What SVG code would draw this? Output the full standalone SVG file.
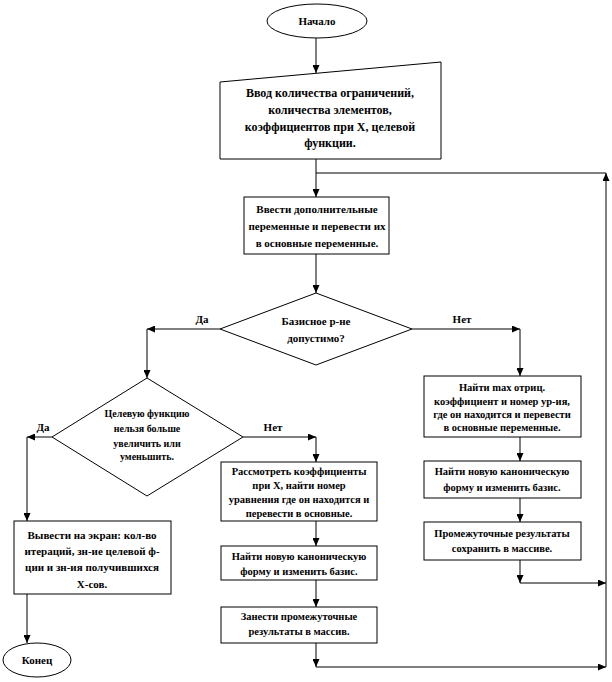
<svg xmlns="http://www.w3.org/2000/svg" width="612" height="682" viewBox="0 0 612 682">
<defs>
<marker id="arr" markerWidth="8" markerHeight="7" refX="8" refY="3.5" orient="auto" markerUnits="userSpaceOnUse">
<path d="M0,0 L8,3.5 L0,7 z" fill="#000"/>
</marker>
<style>
.s{fill:#fff;stroke:#000;stroke-width:1}
.c{fill:none;stroke:#000;stroke-width:1;marker-end:url(#arr)}
.n{fill:none;stroke:#000;stroke-width:1}
text{font-family:"Liberation Serif","Times New Roman",serif;font-weight:bold;fill:#000;text-anchor:middle}
.t12{font-size:12px}
.t11{font-size:11px}
.t10{font-size:10.5px}
.t9{font-size:10px}
</style>
</defs>
<rect width="612" height="682" fill="#fff"/>
<g id="connectors">
<path class="c" d="M316,38 V73"/>
<path class="c" d="M316,159 V197"/>
<path class="c" d="M316,254 V293"/>
<path class="c" d="M220,329 H147"/>
<path class="c" d="M147,329 V378"/>
<path class="c" d="M412,329 H520"/>
<path class="c" d="M520,329 V376"/>
<path class="c" d="M52,437 H27"/>
<path class="c" d="M27,437 V521"/>
<path class="c" d="M243,437 H316"/>
<path class="c" d="M316,437 V462"/>
<path class="c" d="M316,521 V546"/>
<path class="c" d="M316,580 V607"/>
<path class="c" d="M316,643 V667"/>
<path class="c" d="M316,667 H606"/>
<path class="c" d="M520,437 V461"/>
<path class="c" d="M520,498 V522"/>
<path class="c" d="M520,560 V583"/>
<path class="c" d="M520,583 H606"/>
<path class="c" d="M606,667 V173"/>
<path class="n" d="M606,173 H316"/>
<path class="c" d="M27,594 V643"/>
</g>
<g id="labels">
<text class="t11" x="202" y="323">Да</text>
<text class="t11" x="462" y="323">Нет</text>
<text class="t11" x="43" y="431">Да</text>
<text class="t11" x="273" y="431">Нет</text>
</g>
<g id="start">
<ellipse class="s" cx="317" cy="21" rx="50" ry="17"/>
<text class="t11" x="317" y="25">Начало</text>
</g>
<g id="input">
<path class="s" d="M220,82 L441,62 L441,159 L220,159 z"/>
<text class="t12" x="330" y="97">Ввод количества ограничений,</text>
<text class="t12" x="330" y="114">количества элементов,</text>
<text class="t12" x="330" y="131">коэффициентов при X, целевой</text>
<text class="t12" x="330" y="147">функции.</text>
</g>
<g id="addvars">
<rect class="s" x="244" y="197" width="145" height="57"/>
<text class="t11" x="317" y="213">Ввести дополнительные</text>
<text class="t11" x="317" y="230">переменные и перевести их</text>
<text class="t11" x="317" y="247">в основные переменные.</text>
</g>
<g id="dec1">
<path class="s" d="M316,293 L412,329 L316,365 L220,329 z"/>
<text class="t11" x="316" y="325">Базисное р-не</text>
<text class="t11" x="316" y="342">допустимо?</text>
</g>
<g id="dec2">
<path class="s" d="M147,378 L243,437 L147,496 L52,437 z"/>
<text class="t9" x="147" y="417">Целевую функцию</text>
<text class="t9" x="147" y="432">нельзя больше</text>
<text class="t9" x="147" y="447">увеличить или</text>
<text class="t9" x="147" y="460">уменьшить.</text>
</g>
<g id="output">
<rect class="s" x="14" y="521" width="157" height="73"/>
<text class="t11" x="92" y="539">Вывести на экран: кол-во</text>
<text class="t11" x="92" y="555">итераций, зн-ие целевой ф-</text>
<text class="t11" x="92" y="571">ции и зн-ия получившихся</text>
<text class="t11" x="92" y="588">X-сов.</text>
</g>
<g id="end">
<ellipse class="s" cx="37" cy="660" rx="34" ry="17"/>
<text class="t11" x="37" y="664">Конец</text>
</g>
<g id="consider">
<rect class="s" x="221" y="462" width="156" height="59"/>
<text class="t10" x="299" y="475">Рассмотреть коэффициенты</text>
<text class="t10" x="299" y="489">при X, найти номер</text>
<text class="t10" x="299" y="503">уравнения где он находится и</text>
<text class="t10" x="299" y="517">перевести в основные.</text>
</g>
<g id="newform1">
<rect class="s" x="221" y="546" width="156" height="34"/>
<text class="t10" x="299" y="560">Найти новую каноническую</text>
<text class="t10" x="299" y="575">форму и изменить базис.</text>
</g>
<g id="store1">
<rect class="s" x="221" y="607" width="156" height="36"/>
<text class="t10" x="299" y="620">Занести промежуточные</text>
<text class="t10" x="299" y="635">результаты в массив.</text>
</g>
<g id="findmax">
<rect class="s" x="424" y="376" width="157" height="61"/>
<text class="t10" x="502" y="391">Найти max отриц.</text>
<text class="t10" x="502" y="405">коэффициент и номер ур-ия,</text>
<text class="t10" x="502" y="418">где он находится и перевести</text>
<text class="t10" x="502" y="431">в основные переменные.</text>
</g>
<g id="newform2">
<rect class="s" x="424" y="461" width="157" height="37"/>
<text class="t10" x="502" y="475">Найти новую каноническую</text>
<text class="t10" x="502" y="491">форму и изменить базис.</text>
</g>
<g id="store2">
<rect class="s" x="424" y="522" width="157" height="38"/>
<text class="t10" x="502" y="537">Промежуточные результаты</text>
<text class="t10" x="502" y="552">сохранить в массиве.</text>
</g>
</svg>
